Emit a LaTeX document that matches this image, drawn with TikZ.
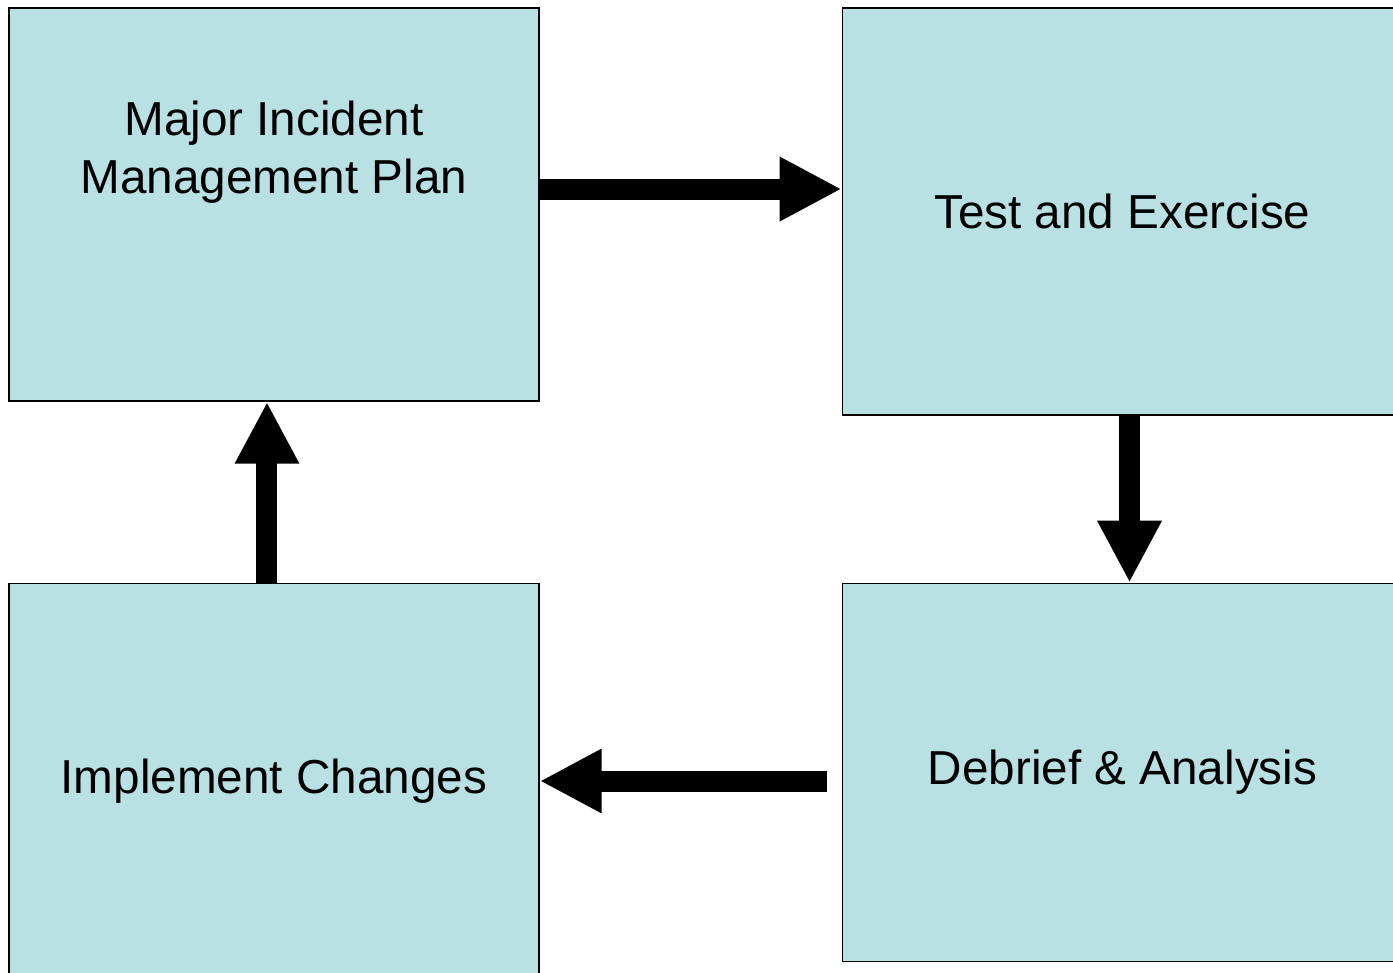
\documentclass[tikz,border=0pt]{standalone}
\usepackage{fontspec}
\setmainfont{Liberation Sans}
\usepackage{tikz}
\usetikzlibrary{shapes,arrows,arrows.meta,positioning,calc}
\definecolor{boxblue}{RGB}{185,224,227}
\tikzstyle{line} = [draw, line width=15.75pt, -{Triangle[length=46.5pt, width=45pt]}]
\tikzstyle{box} = [rectangle, draw, line width=1.1pt, fill=boxblue, minimum width=397.5pt, text centered, inner sep=0pt]
\tikzstyle{caption} = [align=center, inner sep=0pt]

\begin{document}
\begin{tikzpicture}[every node/.style={font=\fontsize{35.75}{43.5}\selectfont}]
	\useasboundingbox (-205.5pt,153.375pt) rectangle (839.25pt,-575.625pt);
	
	\node [box, minimum height=294.75pt] (mip) {};
	\node [caption] at ([yshift=39.4pt]mip.center) (mipText) {Major Incident\\Management Plan};
	\node [box, minimum width=420pt, minimum height=305.25pt, right=226.5pt of mip.north east, anchor=north west] (test) {Test and Exercise};
	\node [box, minimum width=420pt, minimum height=283.5pt, below=125.25pt of test] (debrief) {Debrief \& Analysis};
	\node [box, minimum height=297pt, left=226.5pt of debrief.north west, anchor=north east] (impl) {Implement Changes};
	
	\path [line] ([yshift=11.6pt]mip.east) -- ([yshift=11.6pt]mip.east -| test.west);
	\path [line] ([xshift=5.3pt]test.south) -- ([xshift=5.3pt]test.south |- debrief.north);
	\path [line] ([shift={(-11.25pt,-6.4pt)}]debrief.west) -- ([yshift=-6.4pt]debrief.west -| impl.east);
	\path [line] ([xshift=-5.25pt]impl.north) -- ([xshift=-5.25pt]impl.north |- mip.south);
\end{tikzpicture}
\end{document}
